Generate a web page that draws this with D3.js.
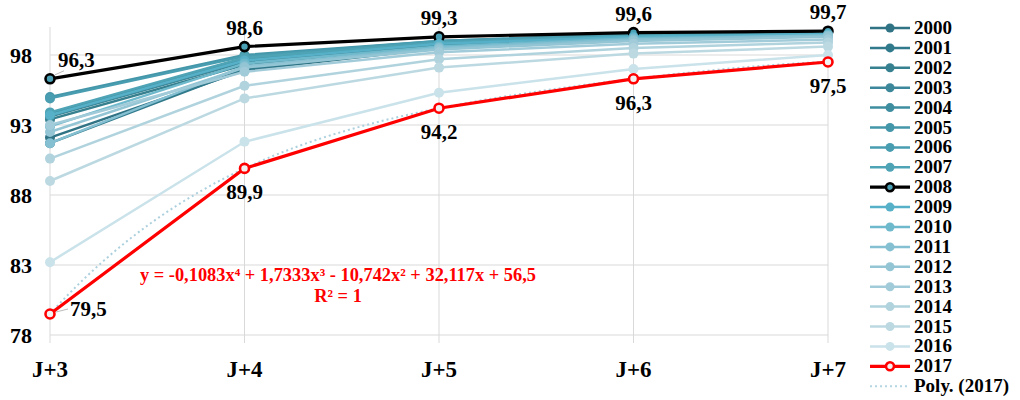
<!DOCTYPE html>
<html>
<head>
<meta charset="utf-8">
<script src="https://cdn.jsdelivr.net/npm/d3@7"></script>
<style>
  body { margin: 0; background: #fff; }
  text { font-family: "Liberation Serif", "Times New Roman", serif; font-weight: bold; }
</style>
</head>
<body>
<svg id="chart" width="1020" height="400"></svg>
<script>
(function() {
  const categories = ['J+3', 'J+4', 'J+5', 'J+6', 'J+7'];
  const years = [2000, 2001, 2002, 2003, 2004, 2005, 2006, 2007, 2008,
                 2009, 2010, 2011, 2012, 2013, 2014, 2015, 2016, 2017];
  const values = [
    [92.1, 96.9, 98.5, 99.2, 99.5],
    [91.7, 97.0, 98.6, 99.3, 99.5],
    [93.4, 97.3, 98.7, 99.3, 99.6],
    [93.6, 97.5, 98.8, 99.4, 99.6],
    [93.8, 97.7, 98.9, 99.4, 99.6],
    [95.0, 98.0, 99.0, 99.5, 99.6],
    [94.9, 97.9, 99.0, 99.5, 99.6],
    [93.9, 97.8, 98.9, 99.4, 99.6],
    [96.3, 98.6, 99.3, 99.6, 99.7],
    [93.7, 97.6, 98.8, 99.3, 99.5],
    [92.9, 97.4, 98.6, 99.2, 99.4],
    [91.7, 97.2, 98.5, 99.1, 99.4],
    [92.5, 97.1, 98.4, 99.0, 99.3],
    [93.0, 96.8, 98.2, 98.8, 99.1],
    [90.6, 95.8, 97.7, 98.5, 98.9],
    [89.0, 94.9, 97.1, 98.1, 98.6],
    [83.2, 91.8, 95.3, 97.0, 98.0],
    [79.5, 89.9, 94.2, 96.3, 97.5]
  ];
  const colors = ['#2f7385', '#317a8c', '#36808f', '#3c8799', '#3f8ea0', '#4496a9',
                  '#499db0', '#4ea3b5', '#000000', '#56b0c7', '#6fb9cd', '#85c0d2',
                  '#93c5d4', '#a2cbd9', '#b0d3de', '#bcd9e2', '#cae2ea', '#ff0000'];
  const yTicks = [78, 83, 88, 93, 98];
  // polynomial trendline of 2017 (x = 1..5)
  const polyCoef = [56.5, 32.117, -10.742, 1.7333, -0.1083];
  const polyLabel = ['y = -0,1083x\u2074 + 1,7333x\u00B3 - 10,742x\u00B2 + 32,117x + 56,5', 'R\u00B2 = 1'];

  const svg = d3.select('#chart');
  const x = d3.scalePoint().domain(categories).range([50, 828]);
  const y = d3.scaleLinear().domain([78, 100]).range([335, 27]);
  const fmt = v => String(v).replace('.', ',');

  // grid
  svg.append('g').selectAll('line').data(yTicks).enter().append('line')
    .attr('x1', 50).attr('x2', 828)
    .attr('y1', d => y(d)).attr('y2', d => y(d))
    .attr('stroke', '#d9d9d9').attr('stroke-width', 1);
  svg.append('g').selectAll('line').data(categories).enter().append('line')
    .attr('x1', d => x(d)).attr('x2', d => x(d))
    .attr('y1', y(100)).attr('y2', y(78) + 8)
    .attr('stroke', '#d9d9d9').attr('stroke-width', 1);

  // axis labels
  svg.append('g').selectAll('text').data(yTicks).enter().append('text')
    .attr('x', 32).attr('y', d => y(d)).attr('dy', '0.35em')
    .attr('text-anchor', 'end').attr('font-size', 22).text(d => d);
  svg.append('g').selectAll('text').data(categories).enter().append('text')
    .attr('x', d => x(d)).attr('y', 377)
    .attr('text-anchor', 'middle').attr('font-size', 23).text(d => d);

  // trendline
  const poly = t => polyCoef.reduce((s, c, k) => s + c * Math.pow(t, k), 0);
  const xi = d3.scaleLinear().domain([1, 5]).range([x(categories[0]), x(categories[4])]);
  const tr = d3.range(1, 5.001, 0.05);
  svg.append('path').datum(tr)
    .attr('d', d3.line().x(t => xi(t)).y(t => y(poly(t))))
    .attr('fill', 'none').attr('stroke', '#add0de').attr('stroke-width', 2)
    .attr('stroke-dasharray', '2,3');

  const line = d3.line().x((d, i) => x(categories[i])).y(d => y(d));
  years.forEach((yr, k) => {
    const special = yr === 2008 || yr === 2017;
    const g = svg.append('g');
    g.append('path').datum(values[k])
      .attr('d', line).attr('fill', 'none')
      .attr('stroke', colors[k]).attr('stroke-width', special ? 3.2 : 2.5);
    g.selectAll('circle').data(values[k]).enter().append('circle')
      .attr('cx', (d, i) => x(categories[i])).attr('cy', d => y(d))
      .attr('r', special ? 4.5 : 5)
      .attr('fill', yr === 2008 ? '#4aa0b5' : (yr === 2017 ? '#f2f2f2' : colors[k]))
      .attr('stroke', special ? colors[k] : 'none')
      .attr('stroke-width', special ? 2.6 : 0);
  });

  // data labels
  const top = values[years.indexOf(2008)];
  const low = values[years.indexOf(2017)];
  const lab = svg.append('g').attr('font-size', 21).attr('fill', '#000');
  lab.append('line').attr('x1', x('J+3') + 5).attr('y1', y(top[0]) - 4)
    .attr('x2', x('J+3') + 14).attr('y2', y(top[0]) - 8).attr('stroke', '#bbb');
  lab.append('text').attr('x', x('J+3') + 8).attr('y', y(top[0]) - 12).text(fmt(top[0]));
  top.slice(1).forEach((v, i) => {
    lab.append('text').attr('x', x(categories[i + 1])).attr('y', y(v) - 12)
      .attr('text-anchor', 'middle').text(fmt(v));
  });
  lab.append('line').attr('x1', x('J+3') + 6).attr('y1', y(low[0]) - 2)
    .attr('x2', x('J+3') + 18).attr('y2', y(low[0]) - 5).attr('stroke', '#bbb');
  lab.append('text').attr('x', x('J+3') + 20).attr('y', y(low[0]) + 2).text(fmt(low[0]));
  low.slice(1).forEach((v, i) => {
    lab.append('text').attr('x', x(categories[i + 1])).attr('y', y(v) + 31)
      .attr('text-anchor', 'middle').text(fmt(v));
  });

  // equation
  svg.append('g').attr('fill', '#ff0000').attr('font-size', 18.4)
    .selectAll('text').data(polyLabel).enter().append('text')
    .attr('x', 338).attr('y', (d, i) => 281 + i * 21)
    .attr('text-anchor', 'middle').text(d => d);

  // legend
  const leg = svg.append('g');
  const rowY = i => 28 + i * 19.9;
  years.forEach((yr, k) => {
    const special = yr === 2008 || yr === 2017;
    const g = leg.append('g').attr('transform', `translate(0,${rowY(k)})`);
    g.append('line').attr('x1', 870).attr('x2', 910)
      .attr('stroke', colors[k]).attr('stroke-width', special ? 3.2 : 2.5);
    g.append('circle').attr('cx', 890).attr('r', special ? 4 : 4.5)
      .attr('fill', yr === 2008 ? '#4aa0b5' : (yr === 2017 ? '#f2f2f2' : colors[k]))
      .attr('stroke', special ? colors[k] : 'none').attr('stroke-width', special ? 2.6 : 0);
    g.append('text').attr('x', 914).attr('y', 6).attr('font-size', 19).text(yr);
  });
  const pg = leg.append('g').attr('transform', `translate(0,${rowY(18)})`);
  pg.append('line').attr('x1', 870).attr('x2', 910)
    .attr('stroke', '#b4d5e2').attr('stroke-width', 2).attr('stroke-dasharray', '2,3');
  pg.append('text').attr('x', 914).attr('y', 6).attr('font-size', 19).text('Poly. (2017)');
})();
</script>
</body>
</html>
